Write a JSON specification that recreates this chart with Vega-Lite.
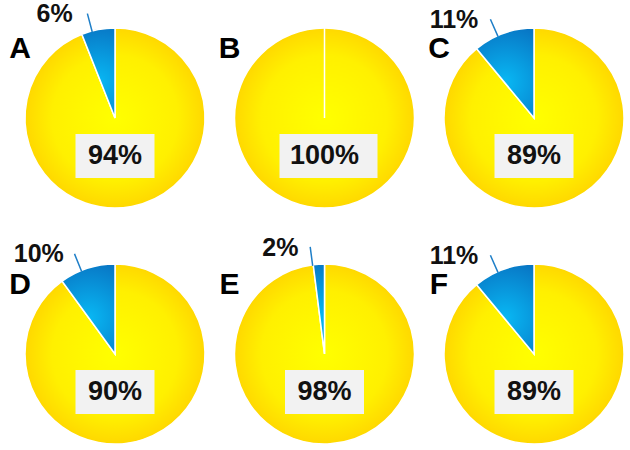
{
  "$schema": "https://vega.github.io/schema/vega-lite/v6.json",
  "padding": {"left": 9, "top": 1, "right": 0, "bottom": 0},
  "bounds": "flush",
  "background": "white",
  "data": {"values": [
    {"letter": "A", "cat": "majority", "frac": 0.94},
    {"letter": "A", "cat": "minority", "frac": 0.06},
    {"letter": "B", "cat": "majority", "frac": 1.0},
    {"letter": "B", "cat": "minority", "frac": 0.0},
    {"letter": "C", "cat": "majority", "frac": 0.89},
    {"letter": "C", "cat": "minority", "frac": 0.11},
    {"letter": "D", "cat": "majority", "frac": 0.90},
    {"letter": "D", "cat": "minority", "frac": 0.10},
    {"letter": "E", "cat": "majority", "frac": 0.98},
    {"letter": "E", "cat": "minority", "frac": 0.02},
    {"letter": "F", "cat": "majority", "frac": 0.89},
    {"letter": "F", "cat": "minority", "frac": 0.11}
  ]},
  "facet": {"field": "letter", "type": "nominal", "title": null, "header": {"title": null, "labelExpr": "''", "labelPadding": 0, "labelFontSize": 1}},
  "columns": 3,
  "spacing": {"row": 46, "column": 13.5},
  "spec": {
    "width": 196,
    "height": 190,
    "layer": [
      {
        "mark": {"type": "arc", "outerRadius": 90, "stroke": "white", "strokeWidth": 1.5},
        "encoding": {
          "theta": {"field": "frac", "type": "quantitative", "stack": true, "scale": {"domain": [0, 1], "range": [0, 6.283185307179586]}},
          "order": {"field": "cat", "type": "ordinal", "sort": "ascending"},
          "color": {
            "condition": {"test": "datum.cat === 'minority'", "value": {"gradient": "radial", "x1": 0.5, "y1": 0.6, "r1": 0, "x2": 0.5, "y2": 0.6, "r2": 0.7, "stops": [{"offset": 0, "color": "#08B8F4"}, {"offset": 1, "color": "#0870C0"}]}},
            "value": {"gradient": "radial", "x1": 0.5, "y1": 0.5, "r1": 0, "x2": 0.5, "y2": 0.5, "r2": 0.5, "stops": [{"offset": 0, "color": "#FFFF00"}, {"offset": 0.7, "color": "#FFF000"}, {"offset": 1, "color": "#FFD800"}]}
          }
        }
      },
      {
        "transform": [{"filter": "datum.cat === 'majority'"}],
        "mark": {"type": "point", "filled": true, "color": "#F2F2F2", "opacity": 1, "size": 10000, "strokeWidth": 0},
        "encoding": {
          "shape": {"condition": {"test": "datum.frac >= 1", "value": "M-0.9,0.32L1.06,0.32L1.06,1.2L-0.9,1.2Z"}, "value": "M-0.79,0.32L0.79,0.32L0.79,1.2L-0.79,1.2Z"}
        }
      },
      {
        "transform": [{"filter": "datum.cat === 'majority'"}],
        "mark": {"type": "text", "fontSize": 27, "fontWeight": "bold", "font": "Liberation Sans", "color": "#111111", "dy": 38, "baseline": "middle", "align": "center"},
        "encoding": {"text": {"field": "frac", "type": "quantitative", "format": ".0%"}}
      },
      {
        "transform": [{"filter": "datum.cat === 'majority'"}],
        "mark": {"type": "text", "fontSize": 30, "fontWeight": "bold", "font": "Liberation Sans", "color": "#000000", "dx": -95, "dy": -69, "baseline": "middle", "align": "center"},
        "encoding": {"text": {"field": "letter", "type": "nominal"}}
      },
      {
        "transform": [{"filter": "datum.cat === 'minority' && datum.frac > 0"}],
        "mark": {"type": "arc", "outerRadius": 108, "innerRadius": 89, "thetaOffset": -0.07, "theta2Offset": -0.07, "stroke": "#1F7FC8", "strokeWidth": 1.5, "fill": null},
        "encoding": {
          "theta": {"field": "frac", "type": "quantitative", "stack": false, "scale": {"domain": [0, 2], "range": [6.283185307179586, 0]}},
          "theta2": {"field": "frac"}
        }
      },
      {
        "transform": [{"filter": "datum.cat === 'minority' && datum.frac > 0"}],
        "mark": {"type": "text", "radius": 130, "dx": -36, "dy": 24, "fontSize": 25, "fontWeight": "bold", "font": "Liberation Sans", "color": "#111111", "align": "center", "baseline": "middle"},
        "encoding": {
          "theta": {"field": "frac", "type": "quantitative", "stack": false, "scale": {"domain": [0, 2], "range": [6.283185307179586, 0]}},
          "text": {"field": "frac", "type": "quantitative", "format": ".0%"}
        }
      }
    ],
    "resolve": {"scale": {"theta": "independent"}}
  },
  "config": {"view": {"stroke": null}, "font": "Liberation Sans"}
}
